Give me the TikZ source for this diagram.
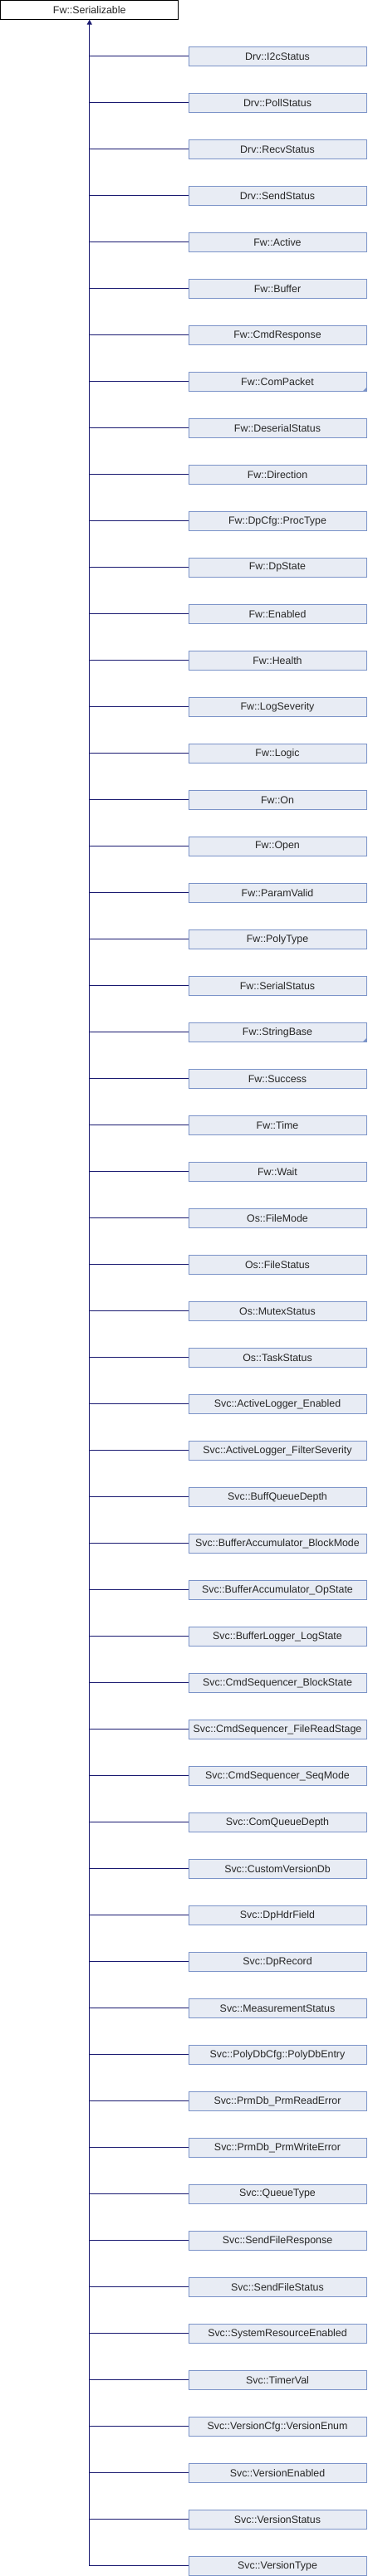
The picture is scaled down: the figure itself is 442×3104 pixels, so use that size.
\documentclass[tikz,border=0pt]{standalone}
\usepackage{fontspec}
\setmainfont{Liberation Sans}
\usetikzlibrary{arrows.meta}
\definecolor{boxfill}{HTML}{E8ECF4}
\definecolor{boxline}{HTML}{7B93C8}
\definecolor{edgecol}{HTML}{191970}
\begin{document}
\begin{tikzpicture}[x=1pt,y=-1pt,
  basebox/.style={rectangle, minimum width=214pt, minimum height=22.5pt, inner sep=0pt,
    font=\fontsize{12.4}{14}\selectfont, line width=1pt, text=black!85},
  topbox/.style={basebox, draw=black, fill=white},
  childbox/.style={basebox, draw=boxline, fill=boxfill},
  edge/.style={draw=edgecol, line width=1pt},
  fold/.style={fill=boxline}]
\useasboundingbox (0,0) rectangle (442,3104);
\node[topbox] (top) at (107.75,11.9) {Fw::Serializable};
\foreach \nm [count=\i from 0] in {Drv::I2cStatus,Drv::PollStatus,Drv::RecvStatus,Drv::SendStatus,Fw::Active,Fw::Buffer,Fw::CmdResponse,Fw::ComPacket,Fw::DeserialStatus,Fw::Direction,Fw::DpCfg::ProcType,Fw::DpState,Fw::Enabled,Fw::Health,Fw::LogSeverity,Fw::Logic,Fw::On,Fw::Open,Fw::ParamValid,Fw::PolyType,Fw::SerialStatus,Fw::StringBase,Fw::Success,Fw::Time,Fw::Wait,Os::FileMode,Os::FileStatus,Os::MutexStatus,Os::TaskStatus,Svc::ActiveLogger\_Enabled,Svc::ActiveLogger\_FilterSeverity,Svc::BuffQueueDepth,Svc::BufferAccumulator\_BlockMode,Svc::BufferAccumulator\_OpState,Svc::BufferLogger\_LogState,Svc::CmdSequencer\_BlockState,Svc::CmdSequencer\_FileReadStage,Svc::CmdSequencer\_SeqMode,Svc::ComQueueDepth,Svc::CustomVersionDb,Svc::DpHdrField,Svc::DpRecord,Svc::MeasurementStatus,Svc::PolyDbCfg::PolyDbEntry,Svc::PrmDb\_PrmReadError,Svc::PrmDb\_PrmWriteError,Svc::QueueType,Svc::SendFileResponse,Svc::SendFileStatus,Svc::SystemResourceEnabled,Svc::TimerVal,Svc::VersionCfg::VersionEnum,Svc::VersionEnabled,Svc::VersionStatus,Svc::VersionType}{
  \node[childbox] (c\i) at (334,67.8+56*\i) {\nm};
  \draw[edge] (c\i.west) -- (c\i.west -| top.south);
}
\fill[fold] (c7.south east) -- ++(-5,0) -- ++(5,-5) -- cycle;
\fill[fold] (c21.south east) -- ++(-5,0) -- ++(5,-5) -- cycle;
\draw[edge, -{Triangle[width=6pt,length=6pt]}] (c54.west -| top.south) -- (top.south);
\end{tikzpicture}
\end{document}
